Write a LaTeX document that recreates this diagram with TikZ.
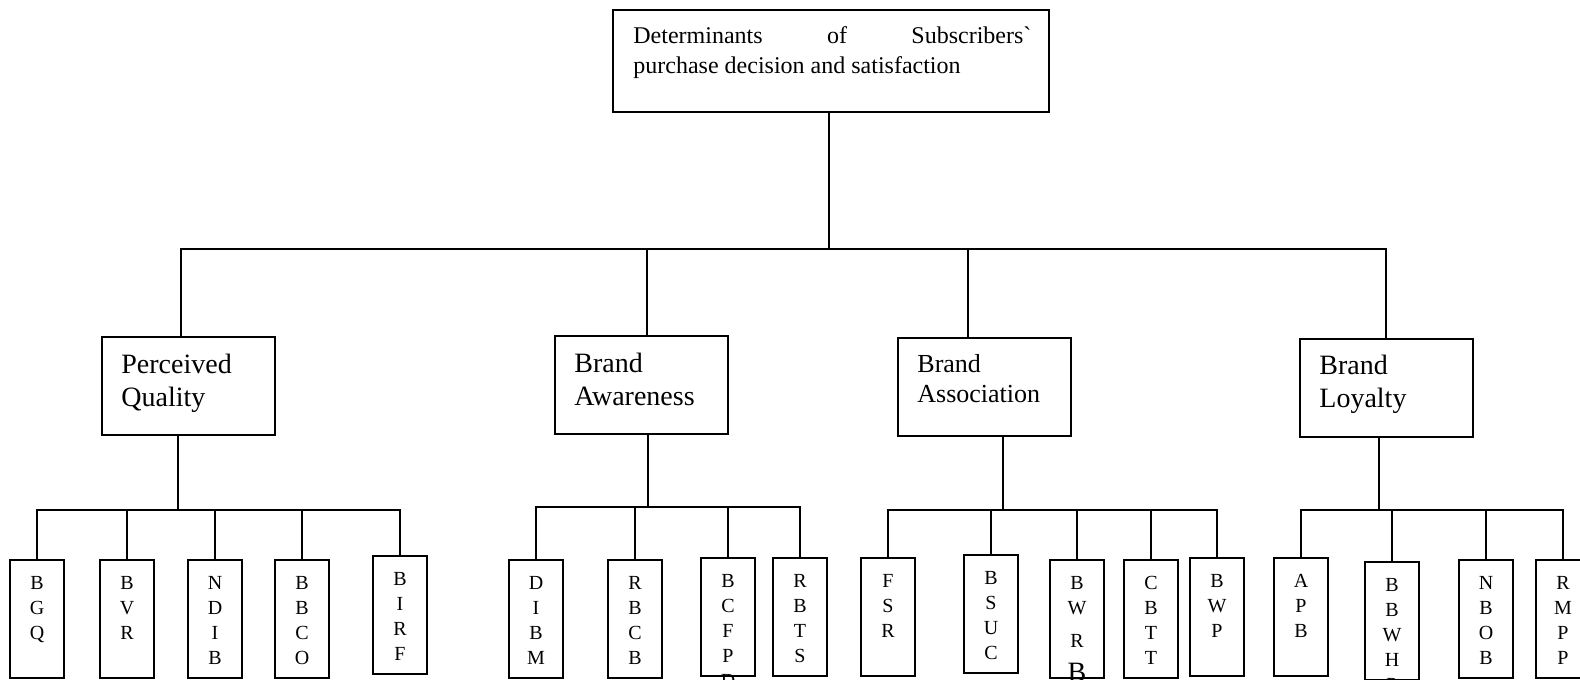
\documentclass[tikz,border=0pt]{standalone}
\usepackage{fontspec}
\setmainfont{Liberation Serif}
\tikzset{
  link/.style={line width=1pt},
  topbox/.style={draw, line width=1pt, anchor=north west, minimum width=218pt, minimum height=51pt, inner sep=0},
  factor/.style={draw, line width=1pt, anchor=north west, minimum width=86.5pt, minimum height=49pt, inner sep=0},
  factortext/.style={anchor=base west, text width=75pt, align=left, inner sep=0, font=\fontsize{14}{16.5}\selectfont},
  leafbox/.style={draw, line width=1pt, anchor=north west, minimum width=27pt, text width=27pt, inner sep=0,
    text height=14.5pt, text depth=44.5pt, align=center, font=\fontsize{10}{12.5}\selectfont},
}

\begin{document}
\begin{tikzpicture}[x=0.5pt, y=-0.5pt]
    \useasboundingbox (0,0) rectangle (1580,680);

    % Top box
    \node[topbox] (top) at (612,9) {};
    \node[anchor=base west, text width=199pt, align=justify, inner sep=0, font=\fontsize{12}{15}\selectfont] (toptext) at (633,43)
      {Determinants of Subscribers\textasciigrave\linebreak purchase decision and satisfaction};

    % Factor boxes
    \node[factor] (pq) at (101,336) {};
    \node[factortext] (pqtext) at (121,373) {Perceived\\Quality};
    \node[factor] (ba) at (554,335) {};
    \node[factortext] (batext) at (574,372) {Brand\\Awareness};
    \node[factor] (bas) at (897,337) {};
    \node[factortext, font=\fontsize{13}{15}\selectfont] (bastext) at (917,372) {Brand\\Association};
    \node[factor] (bl) at (1299,338) {};
    \node[factortext] (bltext) at (1319,374) {Brand\\Loyalty};

    % Top level lines
    \coordinate (hub) at (829,249);
    \draw[link] ([xshift=-1pt]top.south) -- (hub);
    \draw[link] ([xshift=-3.75pt]pq.north) |- (hub) -| ([xshift=-.5pt]bl.north);
    \draw[link] ([xshift=2.75pt]ba.north) -- ([xshift=2.75pt]ba.north |- hub);
    \draw[link] ([xshift=-8.25pt]bas.north) -- ([xshift=-8.25pt]bas.north |- hub);

    % Perceived quality items
    \node[leafbox] (bgq) at (9,559) {B\\G\\Q};
    \node[leafbox] (bvr) at (99,559) {B\\V\\R};
    \node[leafbox] (ndib) at (187,559) {N\\D\\I\\B};
    \node[leafbox] (bbco) at (274,559) {B\\B\\C\\O};
    \node[leafbox] (birf) at (372,555) {B\\I\\R\\F};
    \coordinate (pqbar) at (178,510);
    \draw[link] (pq.south -| pqbar) -- (pqbar);
    \draw[link] (bgq.north) |- (pqbar) -| (birf.north);
    \foreach \n in {bvr,ndib,bbco} \draw[link] (\n.north) -- (\n.north |- pqbar);

    % Brand awareness items
    \node[leafbox] (dibm) at (508,559) {D\\I\\B\\M};
    \node[leafbox] (rbcb) at (607,559) {R\\B\\C\\B};
    \node[leafbox] (bcfpd) at (700,557) {B\\C\\F\\P\\D};
    \node[leafbox] (rbts) at (772,557) {R\\B\\T\\S};
    \coordinate (babar) at (648,507);
    \draw[link] (ba.south -| babar) -- (babar);
    \draw[link] (dibm.north) |- (babar) -| (rbts.north);
    \foreach \n in {rbcb,bcfpd} \draw[link] (\n.north) -- (\n.north |- babar);

    % Brand association items
    \node[leafbox] (fsr) at (860,557) {F\\S\\R};
    \node[leafbox] (bsuc) at (963,554) {B\\S\\U\\C};
    \node[leafbox] (bwrb) at (1049,559) {B\\W\\[4pt]R\\[4.5pt]{\fontsize{14}{14}\selectfont B}};
    \node[leafbox] (cbtt) at (1123,559) {C\\B\\T\\T};
    \node[leafbox] (bwp) at (1189,557) {B\\W\\P};
    \coordinate (basbar) at (1003,510);
    \draw[link] (bas.south -| basbar) -- (basbar);
    \draw[link] (fsr.north) |- (basbar) -| (bwp.north);
    \foreach \n in {bsuc,bwrb,cbtt} \draw[link] (\n.north) -- (\n.north |- basbar);

    % Brand loyalty items
    \node[leafbox] (apb) at (1273,557) {A\\P\\B};
    \node[leafbox] (bbwhp) at (1364,561) {B\\B\\W\\H\\P};
    \node[leafbox] (nbob) at (1458,559) {N\\B\\O\\B};
    \node[leafbox] (rmpp) at (1535,559) {R\\M\\P\\P};
    \coordinate (blbar) at (1379,510);
    \draw[link] (bl.south -| blbar) -- (blbar);
    \draw[link] (apb.north) |- (blbar) -| (rmpp.north);
    \foreach \n in {bbwhp,nbob} \draw[link] (\n.north) -- (\n.north |- blbar);
\end{tikzpicture}
\end{document}
